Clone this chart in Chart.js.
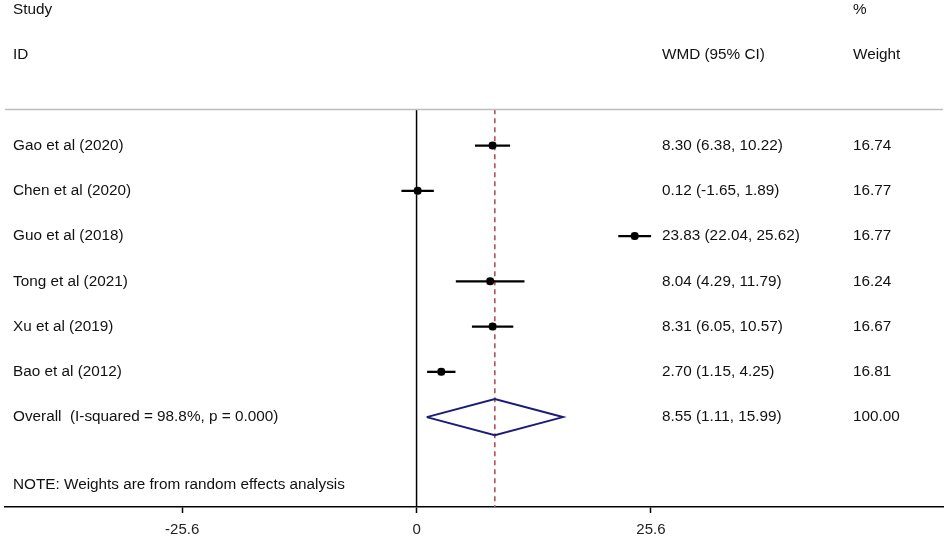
<!DOCTYPE html>
<html>
<head>
<meta charset="utf-8">
<title>Forest plot</title>
<script src="https://cdn.jsdelivr.net/npm/chart.js@4.4.1/dist/chart.umd.min.js"></script>
<style>
  html, body { margin: 0; padding: 0; background: #fff; }
  #wrap { width: 948px; height: 537px; position: relative; }
</style>
</head>
<body>
<div id="wrap"><canvas id="forest"></canvas></div>
<script>
// --- data ---
const studies   = ['Gao et al (2020)', 'Chen et al (2020)', 'Guo et al (2018)', 'Tong et al (2021)', 'Xu et al (2019)', 'Bao et al (2012)'];
const estimates = [8.30, 0.12, 23.83, 8.04, 8.31, 2.70];
const lower     = [6.38, -1.65, 22.04, 4.29, 6.05, 1.15];
const upper     = [10.22, 1.89, 25.62, 11.79, 10.57, 4.25];
const weights   = ['16.74', '16.77', '16.77', '16.24', '16.67', '16.81'];

const overallLabel  = 'Overall  (I-squared = 98.8%, p = 0.000)';
const overall       = [8.55, 1.11, 15.99]; // estimate, lower, upper
const overallWeight = '100.00';

const xTicks = [-25.6, 0, 25.6];
const noteText = 'NOTE: Weights are from random effects analysis';

// row positions (y units = one row)
const rows       = studies.map((s, i) => i + 1);
const overallRow = studies.length + 1;
const headerTop = -2, headerBottom = -1, ruleRow = 0.2, noteRow = 8.5;
const yMin = -2.106, yMax = 8.986;

const FONT = '"Liberation Sans", Arial, Helvetica, sans-serif';
const fmt = v => v.toFixed(2);

// CI whiskers, one small line dataset per study
const ciSets = studies.map((s, i) => ({
    type: 'line',
    data: [{ x: lower[i], y: rows[i] }, { x: upper[i], y: rows[i] }],
    borderColor: '#000',
    borderWidth: 2.3,
    pointRadius: 0,
    order: 3
}));

const diamond = {
    type: 'line',
    data: [
        { x: overall[1], y: overallRow },
        { x: overall[0], y: overallRow - 0.4 },
        { x: overall[2], y: overallRow },
        { x: overall[0], y: overallRow + 0.4 },
        { x: overall[1], y: overallRow }
    ],
    borderColor: '#1b1b7a',
    borderWidth: 2,
    pointRadius: 0,
    fill: false,
    order: 2
};

const nullLine = {
    type: 'line',
    data: [{ x: 0, y: ruleRow }, { x: 0, y: yMax }],
    borderColor: '#000',
    borderWidth: 1.5,
    pointRadius: 0,
    order: 5
};

const overallLine = {
    type: 'line',
    data: [{ x: overall[0], y: ruleRow }, { x: overall[0], y: yMax }],
    borderColor: '#a8474f',
    borderWidth: 1.5,
    borderDash: [5, 4],
    pointRadius: 0,
    order: 4
};

const boxes = {
    type: 'scatter',
    data: estimates.map((v, i) => ({ x: v, y: rows[i] })),
    pointStyle: 'rect',
    pointRadius: 5,
    backgroundColor: '#b0b0b0',
    borderWidth: 0,
    order: 1
};

const dots = {
    type: 'scatter',
    data: estimates.map((v, i) => ({ x: v, y: rows[i] })),
    pointStyle: 'circle',
    pointRadius: 4,
    backgroundColor: '#000',
    borderWidth: 0,
    order: 0
};

// text columns and the top rule
const textColumns = {
    id: 'textColumns',
    afterDatasetsDraw(chart) {
        const { ctx, scales: { y }, chartArea } = chart;
        const labelX = 13, estX = 662, weightX = 853;
        ctx.save();
        ctx.font = '15.3px ' + FONT;
        ctx.fillStyle = '#111';
        ctx.textBaseline = 'middle';
        ctx.textAlign = 'left';

        ctx.fillText('Study', labelX, y.getPixelForValue(headerTop));
        ctx.fillText('%', weightX, y.getPixelForValue(headerTop));
        ctx.fillText('ID', labelX, y.getPixelForValue(headerBottom));
        ctx.fillText('WMD (95% CI)', estX, y.getPixelForValue(headerBottom));
        ctx.fillText('Weight', weightX, y.getPixelForValue(headerBottom));

        studies.forEach((s, i) => {
            const py = y.getPixelForValue(rows[i]);
            ctx.fillText(s, labelX, py);
            ctx.fillText(`${fmt(estimates[i])} (${fmt(lower[i])}, ${fmt(upper[i])})`, estX, py);
            ctx.fillText(weights[i], weightX, py);
        });

        const oy = y.getPixelForValue(overallRow);
        ctx.fillText(overallLabel, labelX, oy);
        ctx.fillText(`${fmt(overall[0])} (${fmt(overall[1])}, ${fmt(overall[2])})`, estX, oy);
        ctx.fillText(overallWeight, weightX, oy);

        ctx.fillText(noteText, labelX, y.getPixelForValue(noteRow));

        // grey rule under the header
        const ry = Math.round(y.getPixelForValue(ruleRow)) + 0.5;
        ctx.strokeStyle = '#bdbdbd';
        ctx.lineWidth = 1.5;
        ctx.beginPath();
        ctx.moveTo(chartArea.left, ry);
        ctx.lineTo(chartArea.right, ry);
        ctx.stroke();
        ctx.restore();
    }
};

document.addEventListener('DOMContentLoaded', function () {
    const el = document.getElementById('forest');
    new Chart(el.getContext('2d'), {
        data: { datasets: [...ciSets, diamond, nullLine, overallLine, boxes, dots] },
        options: {
            responsive: true,
            maintainAspectRatio: false,
            animation: false,
            layout: { padding: { left: 3, right: 3, top: 0, bottom: 0 } },
            plugins: {
                legend: { display: false },
                tooltip: { enabled: false }
            },
            scales: {
                x: {
                    type: 'linear',
                    min: -44.96,
                    max: 57.51,
                    afterBuildTicks: scale => { scale.ticks = xTicks.map(v => ({ value: v })); },
                    afterFit: scale => { scale.height = 30; },
                    ticks: {
                        color: '#222',
                        padding: 8,
                        font: { family: FONT, size: 15 },
                        callback: v => String(v)
                    },
                    grid: {
                        drawOnChartArea: false,
                        drawTicks: true,
                        tickLength: 6,
                        tickWidth: 1.5,
                        tickColor: '#000'
                    },
                    border: { display: true, color: '#000', width: 1.5 }
                },
                y: {
                    type: 'linear',
                    reverse: true,
                    min: yMin,
                    max: yMax,
                    display: false
                }
            }
        },
        plugins: [textColumns]
    });
});
</script>
</body>
</html>
